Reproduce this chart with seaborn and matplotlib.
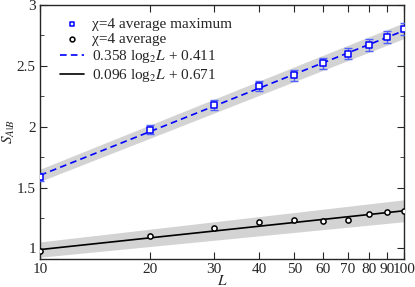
import numpy as np
import pandas as pd
import seaborn as sns
import matplotlib.pyplot as plt
from matplotlib.ticker import FixedLocator, MultipleLocator, NullLocator

# data
L = [10, 20, 30, 40, 50, 60, 70, 80, 90, 100]
s_max = [1.587, 1.975, 2.18, 2.336, 2.424, 2.523, 2.60, 2.672, 2.738, 2.804]
s_max_err = [0.03, 0.035, 0.04, 0.04, 0.045, 0.045, 0.045, 0.05, 0.05, 0.05]
s_avg = [0.981, 1.102, 1.165, 1.220, 1.233, 1.225, 1.233, 1.285, 1.296, 1.305]

fit_max = (0.358, 0.411)
fit_avg = (0.096, 0.671)
band_max = (0.05, 0.065)   # half width of grey band at L=10 and L=100
band_avg = (0.063, 0.09)

sns.set_style('ticks')
plt.rcParams['font.family'] = ['Liberation Serif', 'DejaVu Serif']
plt.rcParams['mathtext.fontset'] = 'stix'

df = pd.DataFrame({'L': L, 'max': s_max, 'avg': s_avg})

fig = plt.figure(figsize=(4.15, 2.87), dpi=100)
ax = fig.add_axes([0.0964, 0.0965, 0.877, 0.886])
ax.set_xscale('log')

Lg = np.linspace(10, 100, 200)
t = (np.log2(Lg) - np.log2(10)) / (np.log2(100) - np.log2(10))
for (a, b), (h0, h1) in [(fit_max, band_max), (fit_avg, band_avg)]:
    y = a * np.log2(Lg) + b
    h = h0 + (h1 - h0) * t
    ax.fill_between(Lg, y - h, y + h, color='#d3d3d3', lw=0, zorder=1)

fits = pd.DataFrame({'L': Lg,
                     'max': fit_max[0] * np.log2(Lg) + fit_max[1],
                     'avg': fit_avg[0] * np.log2(Lg) + fit_avg[1]})
sns.lineplot(data=fits, x='L', y='max', ax=ax, color='#0000ff', lw=1.2,
             dashes=False, linestyle=(0, (4, 2.5)), zorder=3,
             label=r'0.358 log$_2$$L$ + 0.411')
sns.lineplot(data=fits, x='L', y='avg', ax=ax, color='black', lw=1.2, zorder=3,
             label=r'0.096 log$_2$$L$ + 0.671')

ax.errorbar(L, s_max, yerr=s_max_err, fmt='none', ecolor='#5060ff', elinewidth=1,
            capsize=3, capthick=1, zorder=4)
sns.scatterplot(data=df, x='L', y='max', ax=ax, marker='s', s=13, facecolor='white',
                edgecolor='#0000ff', linewidth=1.1, zorder=5, label='χ=4 average maximum')
sns.scatterplot(data=df, x='L', y='avg', ax=ax, marker='o', s=14, facecolor='white',
                edgecolor='black', linewidth=1.1, zorder=5, label='χ=4 average')

ax.set_xlim(10, 100)
ax.set_ylim(0.91, 3.0)
ax.xaxis.set_major_locator(FixedLocator(L))
ax.xaxis.set_minor_locator(NullLocator())
ax.set_xticklabels([str(v) for v in L])
ax.yaxis.set_major_locator(MultipleLocator(0.5))
ax.yaxis.set_minor_locator(MultipleLocator(0.25))
ax.yaxis.set_major_formatter(plt.FuncFormatter(lambda v, p: f'{v:g}'))
ax.tick_params(which='both', direction='in', top=True, right=True, labelsize=11, pad=3)
ax.tick_params(which='major', length=5)
ax.tick_params(which='minor', length=3)
for sp in ax.spines.values():
    sp.set_linewidth(1)

ax.set_xlabel(r'$L$', fontsize=11, labelpad=-2)
ax.set_ylabel(r'$S_{A|B}$', fontsize=11, labelpad=0)

h, lab = ax.get_legend_handles_labels()
order = [2, 3, 0, 1]
leg = ax.legend([h[i] for i in order], [lab[i] for i in order], loc='upper left',
                frameon=False, fontsize=11, handlelength=1.6, handletextpad=0.5,
                labelspacing=0.12, borderaxespad=0.5, borderpad=0.3,
                bbox_to_anchor=(0.02, 1.0))
leg.legend_handles[0].set_sizes([9])
leg.legend_handles[1].set_sizes([12])

fig.savefig('out.png', dpi=100)
